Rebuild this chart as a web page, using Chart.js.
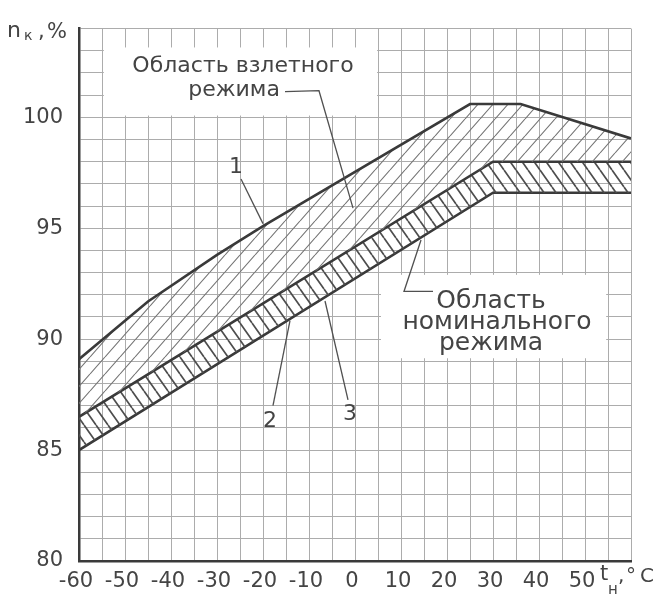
<!DOCTYPE html>
<html><head><meta charset="utf-8">
<script src="https://cdn.jsdelivr.net/npm/chart.js@4"></script>
<style>html,body{margin:0;padding:0;background:#fff}canvas{display:block}</style>
</head><body>
<canvas id="c" width="658" height="596"></canvas>
<script>
// ---- data ----
const line1T = [-60, -45, -30, -20, 25, 36, 60];
const line1N = [89.1, 91.7, 93.8, 95.1, 100.6, 100.6, 99.05];
const line2T = [-60, 30, 60];
const line2N = [86.5, 98.0, 98.0];
const line3T = [-60, 30, 60];
const line3N = [85.0, 96.6, 96.6];
const xTickLabels = [-60, -50, -40, -30, -20, -10, 0, 10, 20, 30, 40, 50];
const yTickLabels = [80, 85, 90, 95, 100];
const takeoffLabel = ['Область взлетного', 'режима'];
const nominalLabel = ['Область', 'номинального', 'режима'];
const curveNames = ['1', '2', '3'];

const FONT = "'DejaVu Sans', 'Noto Sans', sans-serif";
const INK = '#3a3a3a';
const TEXT = '#444444';
const GRID = '#acacac';

function hatch(w, h, color, lw, forward) {
  const c = document.createElement('canvas');
  c.width = w; c.height = h;
  const g = c.getContext('2d');
  g.strokeStyle = color; g.lineWidth = lw;
  g.beginPath();
  for (const k of [-1, 0, 1]) {
    if (forward) { g.moveTo(k * w, h); g.lineTo(k * w + w, 0); }
    else { g.moveTo(k * w, 0); g.lineTo(k * w + w, h); }
  }
  g.stroke();
  return g.createPattern(c, 'repeat');
}

const toPts = (ts, ns) => ts.map((t, i) => ({x: t, y: ns[i]}));

const notes = {
  id: 'notes',
  beforeDatasetsDraw(chart) {
    const {ctx, scales: {x, y}} = chart;
    const X = v => x.getPixelForValue(v), Y = v => y.getPixelForValue(v);
    ctx.save();
    ctx.fillStyle = '#ffffff';
    const box = (t0, t1, n0, n1) => ctx.fillRect(X(t0), Y(n1), X(t1) - X(t0), Y(n0) - Y(n1));
    box(-54.6, 4.8, 100.08, 103.15);
    box(5.65, 54.6, 89.14, 92.9);
    ctx.restore();
  },
  afterDatasetsDraw(chart) {
    const {ctx, scales: {x, y}} = chart;
    const X = v => x.getPixelForValue(v), Y = v => y.getPixelForValue(v);
    ctx.save();
    ctx.fillStyle = TEXT; ctx.strokeStyle = '#505050';
    ctx.textAlign = 'center'; ctx.textBaseline = 'alphabetic';
    ctx.font = `22px ${FONT}`;
    ctx.fillText(takeoffLabel[0], X(-24.35), Y(102.03));
    ctx.fillText(takeoffLabel[1], X(-26.3), Y(100.98));
    ctx.font = `25px ${FONT}`;
    ctx.fillText(nominalLabel[0], X(29.57), Y(91.41));
    ctx.fillText(nominalLabel[1], X(30.87), Y(90.45));
    ctx.fillText(nominalLabel[2], X(29.57), Y(89.49));

    const path = pts => {
      ctx.beginPath();
      pts.forEach(([t, n], i) => i ? ctx.lineTo(X(t), Y(n)) : ctx.moveTo(X(t), Y(n)));
      ctx.stroke();
    };
    ctx.lineWidth = 1.3;
    path([[-15.22, 101.16], [-7.83, 101.2], [-0.43, 95.91]]);
    path([[16.96, 92.15], [10.65, 92.15], [14.35, 94.47]]);
    path([[-24.78, 97.22], [-20, 95.21]]);
    path([[-17.83, 87.0], [-14.13, 90.84]]);
    path([[-1.52, 87.26], [-6.52, 91.72]]);

    ctx.font = `22px ${FONT}`; ctx.textBaseline = 'middle';
    ctx.fillText(curveNames[0], X(-25.87), Y(97.75));
    ctx.fillText(curveNames[1], X(-18.48), Y(86.3));
    ctx.fillText(curveNames[2], X(-1.09), Y(86.6));

    // axis titles
    ctx.textAlign = 'left'; ctx.textBaseline = 'alphabetic';
    ctx.font = `22px ${FONT}`; ctx.fillText('n', 7, 37);
    ctx.font = `14px ${FONT}`; ctx.fillText('к', 24, 40);
    ctx.font = `21px ${FONT}`; ctx.fillText(',', 38, 38); ctx.fillText('%', 47, 38);
    ctx.font = `21px ${FONT}`; ctx.fillText('t', 600, 580);
    ctx.font = `15px ${FONT}`; ctx.fillText('н', 608, 594);
    ctx.font = `20px ${FONT}`; ctx.fillText(',', 618, 582);
    ctx.fillText('°', 626, 582); ctx.fillText('C', 640, 582);
    ctx.restore();
  }
};

const lineStyle = {borderColor: INK, borderWidth: 2.6, pointRadius: 0, tension: 0};

new Chart(document.getElementById('c'), {
  type: 'line',
  data: {
    datasets: [
      {...lineStyle, data: toPts(line1T, line1N), fill: 1,
       backgroundColor: hatch(15, 17, '#747474', 1.1, true)},
      {...lineStyle, data: toPts(line2T, line2N), fill: 2,
       backgroundColor: hatch(12, 17, '#4e4e4e', 1.7, false)},
      {...lineStyle, data: toPts(line3T, line3N), fill: false}
    ]
  },
  options: {
    responsive: false,
    animation: false,
    devicePixelRatio: 1,
    layout: {padding: {left: 0, top: 12, right: 27, bottom: 0}},
    plugins: {legend: {display: false}, tooltip: {enabled: false}},
    scales: {
      x: {
        type: 'linear', min: -60, max: 60,
        ticks: {stepSize: 5, autoSkip: false, maxRotation: 0, padding: 8, labelOffset: -3,
                color: TEXT, font: {family: FONT, size: 21},
                callback: v => xTickLabels.includes(v) ? String(v) : ''},
        grid: {color: GRID, lineWidth: 1, drawTicks: false},
        border: {color: INK, width: 2.5},
        afterFit: s => { s.height = 35; }
      },
      y: {
        type: 'linear', min: 80, max: 104,
        ticks: {stepSize: 1, autoSkip: false, padding: 16,
                color: TEXT, font: {family: FONT, size: 21},
                callback: v => yTickLabels.includes(v) ? String(v) : ''},
        grid: {color: GRID, lineWidth: 1, drawTicks: false},
        border: {color: INK, width: 2.5},
        afterFit: s => { s.width = 79; }
      }
    }
  },
  plugins: [notes]
});
</script>
</body></html>
